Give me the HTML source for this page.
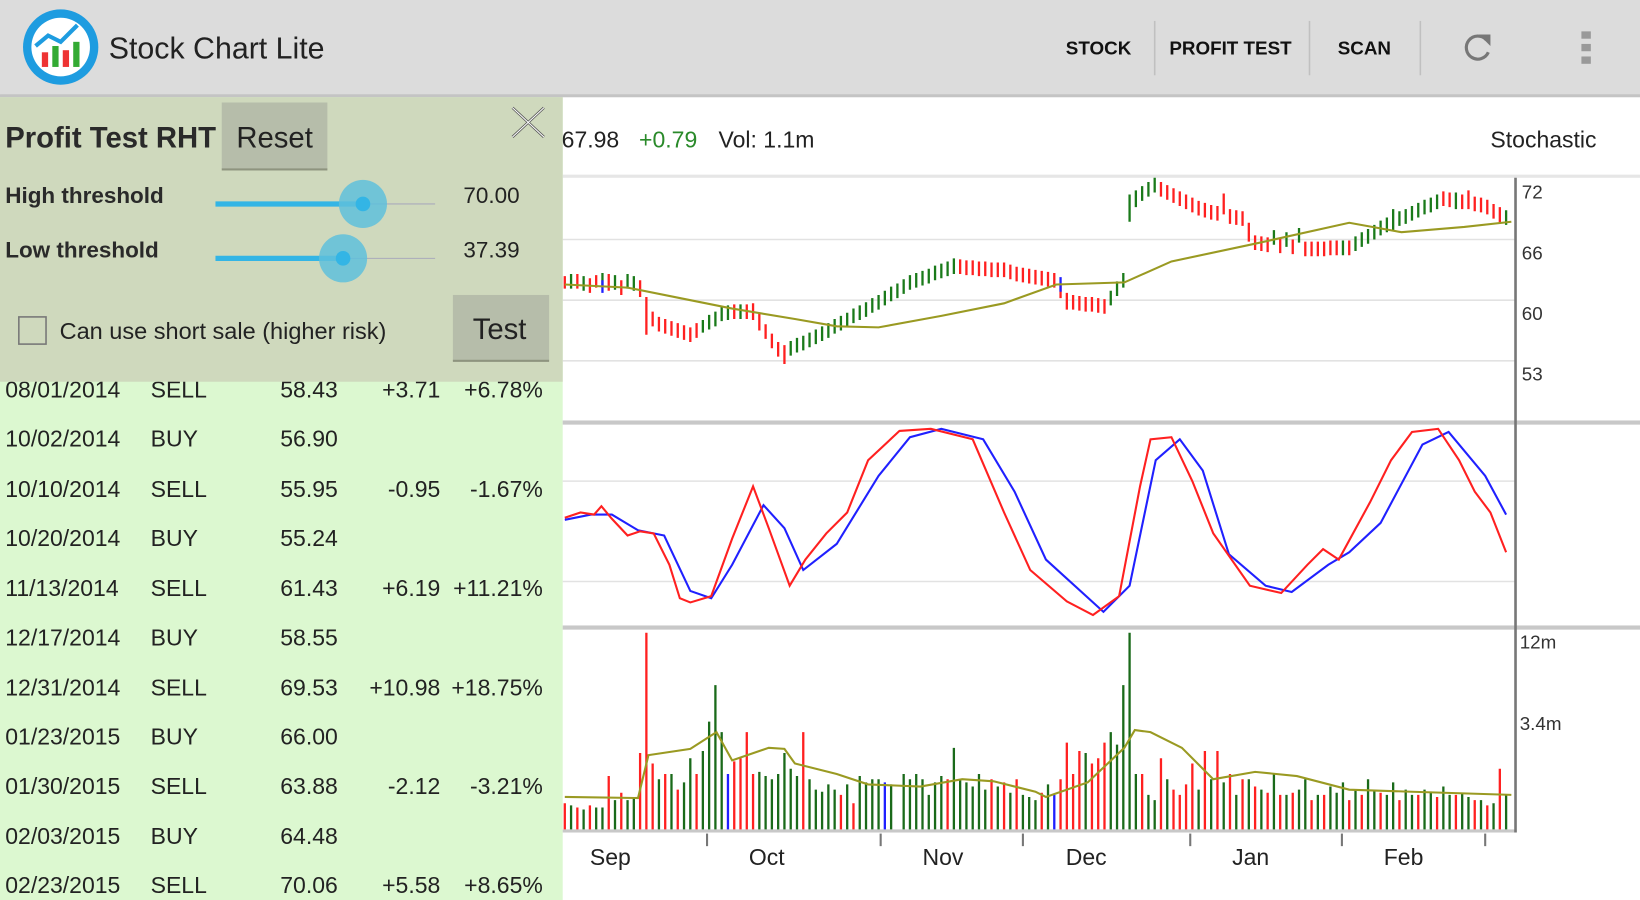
<!DOCTYPE html>
<html><head><meta charset="utf-8"><style>
html,body{margin:0;padding:0;width:1640px;height:900px;overflow:hidden;background:#fff}
svg{display:block;font-family:"Liberation Sans",sans-serif}
</style></head><body>
<svg width="1640" height="900" viewBox="0 0 1568 860.5" xmlns="http://www.w3.org/2000/svg">
<rect x="0" y="0" width="1568" height="861" fill="#fff"/>
<rect x="0" y="92" width="538" height="770" fill="#dcf8d0"/>
<g font-size="22" fill="#222">
<text x="5" y="380">08/01/2014</text><text x="144" y="380">SELL</text><text x="323" y="380" text-anchor="end">58.43</text><text x="421" y="380" text-anchor="end">+3.71</text><text x="519" y="380" text-anchor="end">+6.78%</text>
<text x="5" y="427">10/02/2014</text><text x="144" y="427">BUY</text><text x="323" y="427" text-anchor="end">56.90</text>
<text x="5" y="475">10/10/2014</text><text x="144" y="475">SELL</text><text x="323" y="475" text-anchor="end">55.95</text><text x="421" y="475" text-anchor="end">-0.95</text><text x="519" y="475" text-anchor="end">-1.67%</text>
<text x="5" y="522">10/20/2014</text><text x="144" y="522">BUY</text><text x="323" y="522" text-anchor="end">55.24</text>
<text x="5" y="570">11/13/2014</text><text x="144" y="570">SELL</text><text x="323" y="570" text-anchor="end">61.43</text><text x="421" y="570" text-anchor="end">+6.19</text><text x="519" y="570" text-anchor="end">+11.21%</text>
<text x="5" y="617">12/17/2014</text><text x="144" y="617">BUY</text><text x="323" y="617" text-anchor="end">58.55</text>
<text x="5" y="665">12/31/2014</text><text x="144" y="665">SELL</text><text x="323" y="665" text-anchor="end">69.53</text><text x="421" y="665" text-anchor="end">+10.98</text><text x="519" y="665" text-anchor="end">+18.75%</text>
<text x="5" y="712">01/23/2015</text><text x="144" y="712">BUY</text><text x="323" y="712" text-anchor="end">66.00</text>
<text x="5" y="759">01/30/2015</text><text x="144" y="759">SELL</text><text x="323" y="759" text-anchor="end">63.88</text><text x="421" y="759" text-anchor="end">-2.12</text><text x="519" y="759" text-anchor="end">-3.21%</text>
<text x="5" y="807">02/03/2015</text><text x="144" y="807">BUY</text><text x="323" y="807" text-anchor="end">64.48</text>
<text x="5" y="854">02/23/2015</text><text x="144" y="854">SELL</text><text x="323" y="854" text-anchor="end">70.06</text><text x="421" y="854" text-anchor="end">+5.58</text><text x="519" y="854" text-anchor="end">+8.65%</text>
</g>
<text x="537" y="141" font-size="22" fill="#222">67.98</text>
<text x="611" y="141" font-size="22" fill="#2a8a2a">+0.79</text>
<text x="687" y="141" font-size="22" fill="#222">Vol: 1.1m</text>
<text x="1425" y="141" font-size="22" fill="#222">Stochastic</text>
<rect x="538" y="167" width="1030" height="3" fill="#e6e6e6"/>
<rect x="538" y="402" width="1030" height="4" fill="#c8c8c8"/>
<rect x="538" y="598" width="1030" height="4" fill="#c8c8c8"/>
<rect x="538" y="793" width="912" height="3" fill="#c8c8c8"/>
<g stroke="#e2e2e2" stroke-width="1.5">
<line x1="538" y1="229" x2="1448" y2="229"/><line x1="538" y1="287" x2="1448" y2="287"/><line x1="538" y1="345" x2="1448" y2="345"/>
<line x1="538" y1="460" x2="1448" y2="460"/><line x1="538" y1="556" x2="1448" y2="556"/>
</g>
<line x1="1449" y1="170" x2="1449" y2="796" stroke="#777" stroke-width="2.5"/>
<g font-size="18" fill="#333">
<text x="1455" y="190">72</text><text x="1455" y="248">66</text><text x="1455" y="306">60</text><text x="1455" y="364">53</text>
<text x="1453" y="620">12m</text><text x="1453" y="698">3.4m</text>
</g>
<g stroke="#777" stroke-width="2"><line x1="676" y1="797" x2="676" y2="809"/><line x1="842" y1="797" x2="842" y2="809"/><line x1="978" y1="797" x2="978" y2="809"/><line x1="1138" y1="797" x2="1138" y2="809"/><line x1="1283" y1="797" x2="1283" y2="809"/><line x1="1420" y1="797" x2="1420" y2="809"/></g>
<g font-size="22" fill="#222"><text x="564" y="827">Sep</text><text x="716" y="827">Oct</text><text x="882" y="827">Nov</text><text x="1019" y="827">Dec</text><text x="1178" y="827">Jan</text><text x="1323" y="827">Feb</text></g>

<!-- price bars -->
<path fill="none" stroke="#1a7a1a" stroke-width="2.2" d="M546,262V276 M558,264V278 M576,261V275 M588,263V277 M600,262V276 M606,264V278 M672,306V318 M678,301V315 M684,298V312 M690,293V307 M696,292V306 M708,291V305 M756,326V340 M762,323V337 M768,321V335 M774,318V332 M780,315V329 M786,312V326 M792,309V323 M798,305V319 M804,302V316 M810,299V313 M816,295V309 M822,292V306 M828,289V303 M834,285V299 M840,282V296 M846,278V292 M852,274V288 M858,271V285 M864,267V281 M870,263V277 M876,261V275 M882,259V273 M888,257V271 M894,254V268 M900,252V266 M906,250V264 M912,247V262 M1062,278V292 M1068,269V283 M1074,261V275 M1080,186V212 M1086,182V198 M1092,178V192 M1098,174V188 M1104,170V184 M1218,220V234 M1230,222V236 M1242,218V232 M1284,230V244 M1296,226V240 M1302,222V236 M1308,219V233 M1314,215V229 M1320,211V225 M1326,208V222 M1332,200V220 M1338,202V216 M1344,200V214 M1350,197V211 M1356,194V208 M1362,191V205 M1368,189V203 M1374,186V200 M1392,184V200 M1440,201V215"/>
<path fill="none" stroke="#ff2020" stroke-width="2.2" d="M540,264V276 M552,262V276 M564,266V280 M570,263V275 M582,262V278 M594,268V282 M612,268V284 M618,284V320 M624,298V312 M630,303V317 M636,305V319 M642,307V321 M648,309V323 M654,311V325 M660,313V327 M666,309V323 M702,291V305 M714,291V305 M720,290V306 M726,300V316 M732,310V324 M738,319V333 M744,327V341 M750,330V348 M918,248V262 M924,249V263 M930,249V263 M936,250V264 M942,250V264 M948,251V265 M954,251V265 M960,251V265 M966,253V267 M972,255V269 M978,256V270 M984,257V271 M990,258V272 M996,259V273 M1002,260V274 M1008,261V275 M1014,271V285 M1020,280V296 M1026,282V296 M1032,283V297 M1038,284V298 M1044,284V298 M1050,285V299 M1056,286V300 M1110,174V188 M1116,177V191 M1122,180V194 M1128,183V197 M1134,186V200 M1140,189V203 M1146,192V206 M1152,194V208 M1158,196V210 M1164,197V211 M1170,185V205 M1176,200V214 M1182,201V215 M1188,202V216 M1194,213V231 M1200,225V239 M1206,226V240 M1212,227V241 M1224,228V242 M1236,229V243 M1248,231V245 M1254,231V245 M1260,231V245 M1266,231V245 M1272,230V244 M1278,230V244 M1290,230V244 M1380,183V197 M1386,184V198 M1398,186V200 M1404,182V200 M1410,188V202 M1416,189V203 M1422,191V205 M1428,195V209 M1434,198V214"/>
<path fill="none" stroke="#2020ff" stroke-width="2.2" d="M1014,265V279 M576,268V280"/>
<polyline fill="none" stroke="#9a9a22" stroke-width="2" points="540,272 600,275 650,285 700,295 760,305 800,312 840,313 900,302 960,290 1010,272 1075,270 1120,250 1200,233 1290,213 1340,222 1400,217 1445,212"/>

<!-- stochastic -->
<polyline fill="none" stroke="#2020ff" stroke-width="2" points="540,497 565,492 585,492 610,507 635,512 660,565 680,572 700,540 730,483 750,505 768,545 800,520 840,455 870,418 900,410 940,420 970,470 1000,535 1055,585 1080,560 1105,440 1128,420 1150,450 1175,530 1210,560 1235,566 1270,540 1290,528 1320,500 1360,425 1385,413 1420,455 1440,492"/>
<polyline fill="none" stroke="#ff2020" stroke-width="2" points="540,495 555,490 568,492 575,484 585,496 600,512 612,508 625,510 640,540 650,572 660,576 680,570 700,515 720,465 735,505 755,560 770,535 790,510 810,490 830,440 860,412 890,410 930,420 960,490 985,545 1020,575 1045,588 1070,570 1090,465 1100,420 1120,418 1140,460 1160,510 1195,560 1225,567 1250,540 1265,525 1280,535 1310,480 1330,440 1350,413 1375,410 1395,440 1410,470 1425,490 1440,528"/>

<!-- volume -->
<path fill="none" stroke="#ff2020" stroke-width="2.2" d="M540,793V768 M552,793V772 M564,793V770 M582,793V742 M594,793V758 M612,793V720 M618,793V605 M624,793V730 M636,793V740 M648,793V755 M666,793V740 M702,793V728 M708,793V725 M714,793V700 M720,793V740 M768,793V700 M804,793V760 M816,793V768 M906,793V745 M948,793V745 M960,793V748 M972,793V745 M996,793V758 M1014,793V745 M1020,793V710 M1026,793V740 M1032,793V718 M1044,793V730 M1050,793V725 M1056,793V710 M1092,793V740 M1110,793V725 M1122,793V755 M1128,793V760 M1134,793V750 M1140,793V730 M1152,793V718 M1164,793V718 M1176,793V740 M1188,793V745 M1200,793V752 M1212,793V758 M1224,793V760 M1236,793V758 M1254,793V765 M1266,793V760 M1290,793V765 M1302,793V760 M1320,793V758 M1338,793V765 M1356,793V760 M1374,793V762 M1392,793V760 M1410,793V765 M1422,793V770 M1434,793V735"/>
<path fill="none" stroke="#1a6a1a" stroke-width="2.2" d="M546,793V770 M558,793V774 M570,793V772 M576,793V772 M588,793V765 M600,793V765 M606,793V762 M630,793V745 M642,793V740 M654,793V748 M660,793V725 M672,793V718 M678,793V690 M684,793V655 M690,793V700 M726,793V738 M732,793V742 M738,793V745 M744,793V740 M750,793V720 M756,793V735 M762,793V742 M774,793V745 M780,793V755 M786,793V757 M792,793V750 M798,793V755 M810,793V750 M822,793V742 M828,793V748 M834,793V745 M840,793V745 M852,793V750 M864,793V740 M870,793V745 M876,793V740 M882,793V745 M888,793V760 M894,793V748 M900,793V742 M912,793V715 M918,793V745 M924,793V748 M930,793V752 M936,793V740 M942,793V755 M954,793V752 M966,793V758 M978,793V760 M984,793V762 M990,793V765 M1002,793V750 M1038,793V720 M1062,793V700 M1068,793V712 M1074,793V655 M1080,793V605 M1086,793V740 M1098,793V760 M1104,793V765 M1116,793V745 M1146,793V755 M1158,793V745 M1170,793V748 M1182,793V760 M1194,793V745 M1206,793V755 M1218,793V740 M1230,793V760 M1242,793V755 M1248,793V745 M1260,793V760 M1272,793V752 M1278,793V758 M1284,793V748 M1296,793V755 M1308,793V745 M1314,793V755 M1326,793V760 M1332,793V748 M1344,793V755 M1350,793V760 M1362,793V755 M1368,793V758 M1380,793V752 M1386,793V760 M1398,793V758 M1404,793V762 M1416,793V765 M1428,793V768 M1440,793V760"/>
<path fill="none" stroke="#2020ff" stroke-width="2.2" d="M696,793V740 M846,793V748 M1008,793V760"/>
<polyline fill="none" stroke="#9a9a22" stroke-width="2" points="540,762 610,763 620,722 660,716 685,700 700,727 735,715 750,716 760,730 800,740 830,750 880,752 920,745 950,747 990,757 1000,762 1040,748 1075,715 1085,698 1100,700 1130,715 1160,745 1200,738 1240,742 1290,755 1350,757 1445,760"/>

<!-- top bar -->
<rect x="0" y="0" width="1568" height="90" fill="#dcdcdc"/>
<rect x="0" y="90" width="1568" height="3" fill="#c4c4c4"/>
<circle cx="58" cy="45" r="36" fill="#1e9ce0"/>
<circle cx="58" cy="45" r="28" fill="#fff"/>
<rect x="40" y="50" width="6" height="14" fill="#e33"/><rect x="50" y="44" width="6" height="20" fill="#3a3"/><rect x="60" y="48" width="6" height="16" fill="#e33"/><rect x="70" y="40" width="6" height="24" fill="#3a3"/>
<polyline points="34,44 46,34 58,40 74,24" fill="none" stroke="#1e9ce0" stroke-width="4"/>
<text x="104" y="56" font-size="29" fill="#222">Stock Chart Lite</text>
<g font-size="18" font-weight="bold" fill="#111"><text x="1019" y="52">STOCK</text><text x="1118" y="52">PROFIT TEST</text><text x="1279" y="52">SCAN</text></g>
<g stroke="#c0c0c0" stroke-width="1.5"><line x1="1104" y1="20" x2="1104" y2="72"/><line x1="1252" y1="20" x2="1252" y2="72"/><line x1="1358" y1="20" x2="1358" y2="72"/></g>
<path d="M1421,38 A11,11 0 1 0 1423,50" fill="none" stroke="#777" stroke-width="3"/>
<polygon points="1414,33 1425,33 1425,44" fill="#777"/>
<rect x="1512" y="30" width="9" height="7" fill="#999"/><rect x="1512" y="42" width="9" height="7" fill="#999"/><rect x="1512" y="54" width="9" height="7" fill="#999"/>
<!-- panel -->
<rect x="0" y="93" width="538" height="272" fill="#cfd9bd"/>
<text x="5" y="141" font-size="28" font-weight="bold" fill="#2a2a2a">Profit Test RHT</text>
<rect x="212" y="98" width="101" height="64" fill="#b6bdaa"/><rect x="212" y="161" width="101" height="2" fill="#8e947f"/>
<text x="226" y="141" font-size="28" fill="#222">Reset</text>
<g stroke="#555" stroke-width="2.5"><line x1="490" y1="103" x2="520" y2="131"/><line x1="520" y1="103" x2="490" y2="131"/></g>
<g stroke="#fff" stroke-width="1"><line x1="490" y1="103" x2="520" y2="131"/><line x1="520" y1="103" x2="490" y2="131"/></g>
<text x="5" y="194" font-size="21.5" font-weight="bold" fill="#2a2a2a">High threshold</text>
<text x="5" y="246" font-size="21.5" font-weight="bold" fill="#2a2a2a">Low threshold</text>
<line x1="206" y1="195" x2="416" y2="195" stroke="#aab" stroke-width="1"/><line x1="206" y1="247" x2="416" y2="247" stroke="#aab" stroke-width="1"/>
<line x1="206" y1="195" x2="347" y2="195" stroke="#33b5e5" stroke-width="5"/><line x1="206" y1="247" x2="328" y2="247" stroke="#33b5e5" stroke-width="5"/>
<circle cx="347" cy="195" r="23" fill="#5fc0dc" opacity="0.85"/><circle cx="347" cy="195" r="7" fill="#33b5e5"/>
<circle cx="328" cy="247" r="23" fill="#5fc0dc" opacity="0.85"/><circle cx="328" cy="247" r="7" fill="#33b5e5"/>
<text x="443" y="194" font-size="21.5" fill="#222">70.00</text><text x="443" y="246" font-size="21.5" fill="#222">37.39</text>
<rect x="18" y="303" width="26" height="26" fill="none" stroke="#777" stroke-width="1.5"/>
<text x="57" y="324" font-size="22.5" fill="#222">Can use short sale (higher risk)</text>
<rect x="433" y="282" width="92" height="63" fill="#b6bdaa"/><rect x="433" y="344" width="92" height="2" fill="#8e947f"/>
<text x="452" y="324" font-size="28" fill="#222">Test</text>
</svg>
</body></html>
